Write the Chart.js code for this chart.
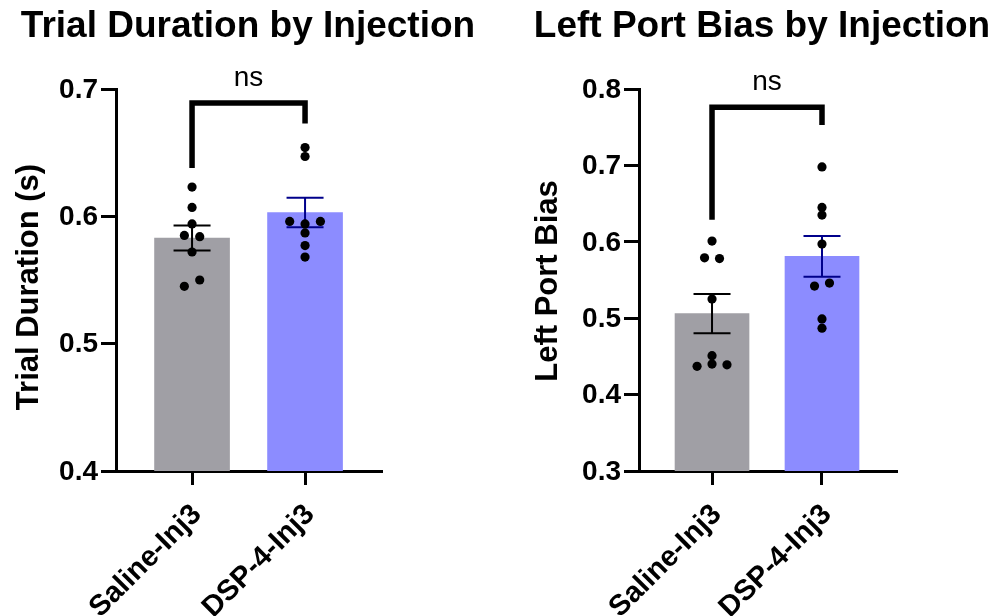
<!DOCTYPE html>
<html>
<head>
<meta charset="utf-8">
<script src="https://cdn.jsdelivr.net/npm/chart.js@4.4.1/dist/chart.umd.min.js"></script>
<style>
  html, body { margin: 0; padding: 0; background: #fff; }
  #wrap { position: relative; width: 999px; height: 616px; }
  .panel { position: absolute; top: 0; }
  #trialPanel { left: 0; }
  #biasPanel { left: 500px; }
</style>
</head>
<body>
<div id="wrap">
  <div class="panel" id="trialPanel"><canvas id="trialChart" width="500" height="616"></canvas></div>
  <div class="panel" id="biasPanel"><canvas id="biasChart" width="499" height="616"></canvas></div>
</div>
<script>
const groups = ['Saline-Inj3', 'DSP-4-Inj3'];

// Trial duration (s), one value per animal
const salineTrial = [0.623, 0.607, 0.594, 0.585, 0.584, 0.572, 0.545, 0.550];
const dspTrial = [0.654, 0.647, 0.596, 0.594, 0.596, 0.587, 0.577, 0.568];
const trialMean = [0.583, 0.603];
const trialSem = [0.0098, 0.0115];
const trialTicks = [0.4, 0.5, 0.6, 0.7];
const trialBracket = [0.638, 0.689, 0.673]; // left leg end, top, right leg end

// Left port bias, one value per animal
const salineBias = [0.601, 0.579, 0.578, 0.525, 0.451, 0.437, 0.440, 0.439];
const dspBias = [0.698, 0.645, 0.635, 0.597, 0.542, 0.546, 0.499, 0.487];
const biasMean = [0.506, 0.581];
const biasSem = [0.0258, 0.0267];
const biasTicks = [0.3, 0.4, 0.5, 0.6, 0.7, 0.8];
const biasBracket = [0.629, 0.776, 0.753];

const FONT = '"Liberation Sans", Arial, Helvetica, sans-serif';
const BAR_COLORS = ['#A09FA5', '#8C8CFF'];
const ERR_COLORS = ['#000000', '#00008B'];

// spread points that sit at nearly the same height side by side
function swarm(values, center, tol, step) {
  const order = values.map((v, i) => i).sort((a, b) => values[b] - values[a]);
  const xs = [];
  let group = [];
  const flush = () => {
    group.sort((a, b) => a - b);
    group.forEach((idx, k) => { xs[idx] = center + (k - (group.length - 1) / 2) * step; });
    group = [];
  };
  order.forEach((idx, n) => {
    if (n > 0 && values[order[n - 1]] - values[idx] > tol) flush();
    group.push(idx);
  });
  flush();
  return values.map((v, i) => ({ x: xs[i], y: v }));
}

function axisStyle(tickLength) {
  return {
    offset: false,
    grid: { display: true, offset: false, drawOnChartArea: false, drawTicks: true, tickLength: tickLength, tickWidth: 3, tickColor: '#000' },
    border: { display: true, color: '#000', width: 3 },
    ticks: { display: false }
  };
}

function makePanel(id, p) {
  const tol = 7 * (p.yMax - p.yMin) / 382;
  const errorBars = {
    id: 'errorBars',
    afterDatasetDraw(chart, args) {
      if (args.index !== 0) return;
      const ctx = chart.ctx, xs = chart.scales.x, ys = chart.scales.y;
      p.mean.forEach((m, i) => {
        const x = xs.getPixelForValue(i);
        const hi = ys.getPixelForValue(m + p.sem[i]);
        const lo = ys.getPixelForValue(m - p.sem[i]);
        ctx.save();
        ctx.strokeStyle = ERR_COLORS[i];
        ctx.lineWidth = 2;
        ctx.beginPath();
        ctx.moveTo(x, hi); ctx.lineTo(x, lo);
        ctx.moveTo(x - 18.5, hi); ctx.lineTo(x + 18.5, hi);
        ctx.moveTo(x - 18.5, lo); ctx.lineTo(x + 18.5, lo);
        ctx.stroke();
        ctx.restore();
      });
    }
  };
  const panelText = {
    id: 'panelText',
    afterDraw(chart) {
      const ctx = chart.ctx, xs = chart.scales.x, ys = chart.scales.y, area = chart.chartArea;
      ctx.save();
      ctx.fillStyle = '#000';
      // title
      ctx.font = 'bold 37px ' + FONT;
      ctx.textAlign = 'center';
      ctx.textBaseline = 'alphabetic';
      ctx.fillText(p.title, p.titleX, 37);
      // y tick labels
      ctx.font = 'bold 28px ' + FONT;
      ctx.textAlign = 'right';
      ctx.textBaseline = 'middle';
      p.ticks.forEach(t => ctx.fillText(t.toFixed(1), area.left - 18, ys.getPixelForValue(t) + 1));
      // category labels
      ctx.font = 'bold 29px ' + FONT;
      groups.forEach((g, i) => {
        ctx.save();
        ctx.translate(xs.getPixelForValue(i) + 5, area.bottom + 39);
        ctx.rotate(-Math.PI / 4);
        ctx.textAlign = 'right';
        ctx.textBaseline = 'middle';
        ctx.fillText(g, 0, 0);
        ctx.restore();
      });
      // y axis title
      ctx.save();
      ctx.font = 'bold 31px ' + FONT;
      ctx.translate(p.yTitleX, p.yTitleY);
      ctx.rotate(-Math.PI / 2);
      ctx.textAlign = 'center';
      ctx.textBaseline = 'alphabetic';
      ctx.fillText(p.yTitle, 0, 0);
      ctx.restore();
      // significance label over the bracket
      ctx.font = '28px ' + FONT;
      ctx.textAlign = 'center';
      ctx.textBaseline = 'alphabetic';
      ctx.fillText('ns', xs.getPixelForValue(0.5), ys.getPixelForValue(p.bracket[1]) - 17);
      ctx.restore();
    }
  };

  return new Chart(document.getElementById(id), {
    type: 'bar',
    data: {
      datasets: [
        {
          type: 'bar',
          data: p.mean.map((m, i) => ({ x: i, y: m })),
          backgroundColor: BAR_COLORS,
          barThickness: p.barWidth,
          order: 3
        },
        {
          type: 'scatter',
          data: swarm(p.saline, 0, tol, 0.136),
          backgroundColor: '#000', borderWidth: 0, pointRadius: 4.6,
          order: 2
        },
        {
          type: 'scatter',
          data: swarm(p.dsp, 1, tol, 0.136),
          backgroundColor: '#000', borderWidth: 0, pointRadius: 4.6,
          order: 2
        },
        {
          type: 'line',
          data: [
            { x: 0, y: p.bracket[0] }, { x: 0, y: p.bracket[1] },
            { x: 1, y: p.bracket[1] }, { x: 1, y: p.bracket[2] }
          ],
          borderColor: '#000', borderWidth: 5.5, pointRadius: 0,
          borderJoinStyle: 'miter', borderCapStyle: 'butt', tension: 0, fill: false,
          order: 1
        }
      ]
    },
    options: {
      responsive: false,
      animation: false,
      devicePixelRatio: 1,
      layout: { padding: p.padding },
      plugins: { legend: { display: false }, tooltip: { enabled: false } },
      scales: {
        x: Object.assign(axisStyle(14), {
          type: 'linear', min: p.xMin, max: p.xMax,
          afterBuildTicks: s => { s.ticks = [{ value: 0 }, { value: 1 }]; }
        }),
        y: Object.assign(axisStyle(15), {
          type: 'linear', min: p.yMin, max: p.yMax,
          afterBuildTicks: s => { s.ticks = p.ticks.map(v => ({ value: v })); }
        })
      }
    },
    plugins: [errorBars, panelText]
  });
}

makePanel('trialChart', {
  title: 'Trial Duration by Injection', titleX: 248,
  yTitle: 'Trial Duration (s)', yTitleX: 38, yTitleY: 287,
  saline: salineTrial, dsp: dspTrial, mean: trialMean, sem: trialSem,
  ticks: trialTicks, yMin: 0.4, yMax: 0.7, xMin: -0.673, xMax: 1.681, bracket: trialBracket,
  barWidth: 75, padding: { left: 101, right: 118, top: 89, bottom: 131 }
});

makePanel('biasChart', {
  title: 'Left Port Bias by Injection', titleX: 262,
  yTitle: 'Left Port Bias', yTitleX: 57, yTitleY: 281,
  saline: salineBias, dsp: dspBias, mean: biasMean, sem: biasSem,
  ticks: biasTicks, yMin: 0.3, yMax: 0.8, xMin: -0.664, xMax: 1.682, bracket: biasBracket,
  barWidth: 74, padding: { left: 124, right: 102, top: 89, bottom: 131 }
});
</script>
</body>
</html>
